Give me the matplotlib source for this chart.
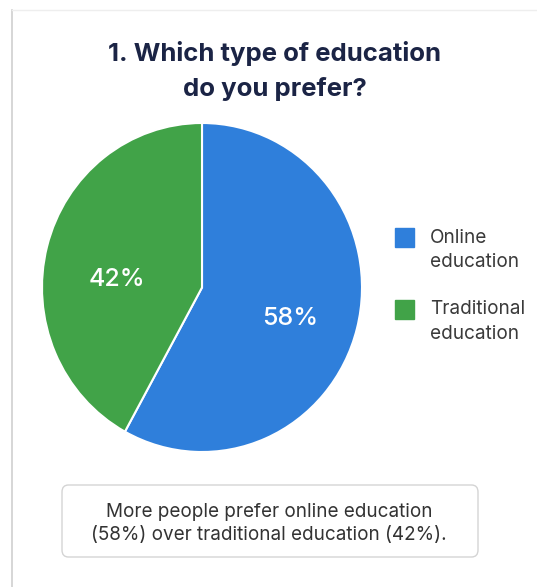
import matplotlib
matplotlib.use("Agg")
import matplotlib.pyplot as plt
from matplotlib.patches import FancyBboxPatch, Rectangle
from matplotlib.lines import Line2D

plt.rcParams['font.family'] = ['Inter', 'DejaVu Sans']

categories = ["Online\neducation", "Traditional\neducation"]
values = [58, 42]
colors = ["#2F7FDB", "#41A348"]
title = "1. Which type of education\ndo you prefer?"
note = "More people prefer online education\n(58%) over traditional education (42%)."

W, H = 537, 587
fig = plt.figure(figsize=(W / 100, H / 100), dpi=100)
fig.patch.set_facecolor("white")

def fx(px):
    return px / W

def fy(py):
    return 1 - py / H

# card borders
fig.add_artist(Line2D([fx(12), fx(12)], [fy(10), fy(587)], color="#cfcfcf", lw=1.2))
fig.add_artist(Line2D([fx(12), fx(537)], [fy(10), fy(10)], color="#eeeeee", lw=1.0))

fig.text(fx(275), fy(71), title, ha="center", va="center", fontsize=18.5,
         fontweight="bold", color="#1B2445", linespacing=1.57)

# pie
cx, cy, rx, ry = 202, 287.5, 160, 164.5
ax = fig.add_axes([fx(cx - rx), fy(cy + ry), 2 * rx / W, 2 * ry / H])
wedges, texts, autotexts = ax.pie(values, colors=colors, startangle=90, counterclock=False,
                                  autopct=lambda p: f"{p:.0f}%", pctdistance=0.57,
                                  wedgeprops=dict(edgecolor="white", linewidth=1.5),
                                  textprops=dict(color="white", fontsize=18, fontweight="medium"))
autotexts[0].set_position((0.55, -0.19))
autotexts[1].set_position((-0.53, 0.05))
ax.set_xlim(-1.0, 1.0)
ax.set_ylim(-1.0, 1.0)
ax.set_aspect("auto")
ax.axis("off")

# legend
ly = [237.5, 309]
for y, lab, c in zip(ly, categories, colors):
    fig.add_artist(Rectangle((fx(395), fy(y + 9.5)), 19 / W, 19 / H, color=c,
                             transform=fig.transFigure))
    fig.text(fx(430), fy(y + 12.5), lab, ha="left", va="center", fontsize=13.7,
             color="#3a3a3a", linespacing=1.44)

# note box
box = FancyBboxPatch((fx(62), fy(557)), (478 - 62) / W, (557 - 485) / H,
                     boxstyle="round,pad=0,rounding_size=0.012",
                     transform=fig.transFigure, facecolor="white",
                     edgecolor="#d4d4d4", linewidth=1.0)
fig.add_artist(box)
fig.text(fx(269), fy(523.5), note, ha="center", va="center", fontsize=13.6,
         color="#333333", linespacing=1.34)

fig.savefig("out.png", dpi=100, facecolor="white")
